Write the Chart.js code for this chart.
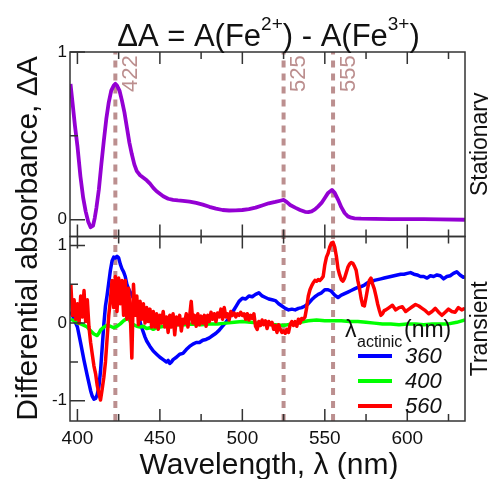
<!DOCTYPE html>
<html><head><meta charset="utf-8">
<script src="https://cdn.jsdelivr.net/npm/chart.js@4.4.1/dist/chart.umd.min.js"></script>
<style>html,body{margin:0;padding:0;background:#fff;overflow:hidden}</style>
</head><body>
<canvas id="c" width="488" height="479" style="width:488px;height:479px;display:block"></canvas>
<script>
// ---------- data ----------
const X_MIN = 395.5, X_MAX = 635;
const X_TICKS = [400, 450, 500, 550, 600];
const X_TICK_LABELS = ['400', '450', '500', '550', '600'];
const X_MINOR = [425, 475, 525, 575, 625];
const TOP_RANGE = [-0.1, 1.0];
const BOT_RANGE = [-1.26, 1.115];
const TOP_Y_TICKS = [0, 1];
const TOP_Y_LABELS = ['0', '1'];
const TOP_Y_MINOR = [0.5];
const BOT_Y_TICKS = [-1, 0, 1];
const BOT_Y_LABELS = ['-1', '0', '1'];
const BOT_Y_MINOR = [-0.5, 0.5];
const MARK_NM = [423, 525, 555];
const MARK_LABELS = ['422', '525', '555'];
const SERIES_LABELS = ['360', '400', '560'];

// Stationary difference spectrum
const STAT_X = [395.8,397,398.5,400,401.8,403.5,405,406.5,408,409.5,410.5,411.5,413,414.5,416,417.5,419,420.5,422,423,424,425.5,427,428.5,430,431.5,433,434.5,436,438,440,442,444,446,448,450,452,455,458,461,464,468,472,476,480,484,488,492,496,500,504,508,512,516,520,523,525,527,529,532,535,538,540,542,544,546,548,550,552,554.3,556,558,560,562,564,566,568,572,580,590,600,610,620,635];
const STAT_Y = [0.81,0.70,0.56,0.44,0.26,0.13,0.05,-0.01,-0.045,-0.035,0.01,0.07,0.18,0.33,0.47,0.60,0.70,0.77,0.80,0.81,0.80,0.77,0.71,0.64,0.55,0.46,0.39,0.33,0.29,0.265,0.25,0.235,0.215,0.19,0.17,0.155,0.14,0.125,0.118,0.115,0.113,0.108,0.10,0.09,0.077,0.066,0.058,0.055,0.056,0.058,0.063,0.072,0.085,0.098,0.106,0.113,0.118,0.105,0.088,0.072,0.058,0.047,0.045,0.05,0.062,0.08,0.10,0.13,0.16,0.178,0.16,0.12,0.075,0.04,0.02,0.012,0.008,0.006,0.005,0.004,0.004,0.003,0.002,0.0];

// Transient, actinic 360 nm
const T360_X = [396,398,400,402,404,406,408,409,410,411,412,413,414,415,416,417,418,419,420,421,422,423,424,425,426,427,428,429,430,431,432,433,434,435,436,437,438,439,440,441,442,444,446,448,450,452,454,455,456,457,458,460,462,464,466,468,470,472,474,476,478,480,482,484,486,488,490,492,494,496,498,500,502,504,506,508,510,512,514,516,518,520,522,524,526,528,530,532,534,536,538,540,542,544,546,548,550,552,554,556,558,560,562,564,566,568,570,572,574,576,578,580,582,584,586,588,590,592,594,596,598,600,602,604,606,608,610,612,614,616,618,620,622,624,626,628,630,632,634,635];
const T360_Y = [0.15,0.05,-0.05,-0.26,-0.48,-0.68,-0.87,-0.94,-0.98,-0.97,-0.92,-0.82,-0.62,-0.32,-0.02,0.22,0.36,0.52,0.68,0.80,0.85,0.84,0.86,0.84,0.76,0.70,0.66,0.60,0.50,0.44,0.40,0.36,0.32,0.24,0.16,0.10,0.01,-0.06,-0.12,-0.18,-0.23,-0.30,-0.36,-0.40,-0.44,-0.47,-0.50,-0.48,-0.52,-0.50,-0.47,-0.44,-0.40,-0.39,-0.34,-0.30,-0.27,-0.25,-0.25,-0.22,-0.21,-0.19,-0.16,-0.13,-0.09,-0.04,0.01,0.07,0.14,0.21,0.28,0.32,0.31,0.35,0.34,0.37,0.39,0.35,0.33,0.31,0.30,0.29,0.25,0.22,0.19,0.17,0.18,0.17,0.19,0.20,0.22,0.25,0.30,0.34,0.37,0.39,0.43,0.43,0.41,0.36,0.33,0.36,0.38,0.40,0.42,0.44,0.46,0.47,0.49,0.52,0.53,0.55,0.56,0.57,0.58,0.59,0.60,0.61,0.62,0.63,0.63,0.64,0.65,0.63,0.62,0.60,0.60,0.58,0.61,0.60,0.62,0.61,0.57,0.60,0.61,0.64,0.66,0.62,0.59,0.60];

// Transient, actinic 400 nm
const T400_X = [396,398,400,402,404,406,408,410,412,413,414,416,418,420,422,424,426,428,430,431,432,434,436,438,440,442,444,446,448,450,455,460,465,470,475,480,485,490,495,500,505,510,515,520,525,530,535,540,545,550,555,560,565,570,575,580,585,590,595,600,605,610,615,620,625,630,635];
const T400_Y = [0.05,0.03,0.00,-0.01,-0.03,-0.05,-0.10,-0.14,-0.16,-0.13,-0.09,-0.05,-0.03,-0.04,-0.06,-0.04,-0.01,0.03,0.06,0.08,0.02,-0.02,-0.04,-0.05,-0.04,-0.07,-0.06,-0.08,-0.06,-0.05,-0.03,-0.02,-0.02,-0.01,-0.02,-0.01,-0.01,0.00,0.01,0.02,0.01,0.00,-0.01,-0.02,-0.03,-0.01,0.01,0.03,0.04,0.03,0.03,0.03,0.02,0.02,0.01,0.00,-0.01,-0.01,-0.02,-0.01,-0.01,-0.02,-0.01,-0.01,-0.01,0.01,0.04];

// Transient, actinic 560 nm
const T560_X = [396,397,398,399,400,401,402,403,404,405,406,407,408,409,410,411,412,413,414,415,416,417,418,419,420,421,422,423,424,425,426,427,428,429,430,431,432,433,434,435,436,437,438,439,440,441,442,443,444,445,446,447,448,449,450,451,452,453,454,455,456,457,458,459,460,461,462,463,464,465,466,467,468,469,470,471,472,473,474,475,476,477,478,479,480,481,482,483,484,485,486,487,488,489,490,491,492,493,494,495,496,497,498,499,500,501,502,503,504,505,506,507,508,509,510,511,512,513,514,515,516,517,518,519,520,521,522,523,524,525,526,527,528,529,530,531,532,533,534,535,536,537,538,539,540,541,542,543,544,545,546,547,548,549,550,551,552,553,554,555,556,557,558,559,560,561,562,563,564,565,566,567,568,569,570,571,572,573,574,575,576,577,578,579,580,581,582,583,584,585,586,587,589,591,593,595,597,599,601,603,605,607,609,611,613,615,617,619,621,623,625,627,629,631,633,635];
const T560_Y = [0.50,0.10,0.30,0.05,0.25,0.00,0.35,0.08,0.42,0.02,0.30,-0.05,-0.25,-0.40,-0.55,-0.65,-0.80,-0.90,-0.99,-0.85,-0.70,-0.50,-0.20,0.10,0.30,0.55,0.20,0.60,0.15,0.58,0.25,0.55,0.10,0.55,0.05,0.45,0.15,-0.45,0.50,0.10,0.35,-0.02,0.28,0.05,0.25,0.00,0.20,0.02,0.18,-0.05,0.15,-0.05,0.12,-0.08,0.10,0.00,0.15,-0.05,0.08,-0.12,0.10,-0.05,0.12,-0.15,0.08,-0.02,0.10,-0.10,0.05,0.00,0.12,-0.05,0.08,0.28,0.00,0.10,-0.04,0.12,-0.02,0.09,0.00,0.10,-0.04,0.10,0.02,0.14,0.05,0.12,0.02,0.13,0.08,0.18,0.05,0.20,0.08,0.12,0.04,0.15,0.10,0.13,0.08,0.12,0.10,0.14,0.10,0.12,0.05,0.12,0.04,0.10,0.06,0.12,-0.04,-0.08,0.02,-0.03,0.04,-0.02,0.03,-0.07,0.02,-0.02,0.01,-0.08,-0.03,-0.12,-0.02,-0.08,-0.12,-0.10,-0.13,-0.08,-0.12,-0.02,0.02,-0.03,0.02,-0.04,0.05,0.00,0.06,0.05,0.08,0.20,0.35,0.43,0.48,0.52,0.55,0.54,0.56,0.55,0.57,0.60,0.75,0.85,0.90,0.98,1.03,1.04,0.98,0.86,0.70,0.62,0.56,0.54,0.58,0.65,0.72,0.76,0.78,0.77,0.73,0.68,0.55,0.45,0.32,0.23,0.22,0.33,0.45,0.55,0.58,0.50,0.44,0.35,0.25,0.17,0.10,0.12,0.16,0.17,0.20,0.23,0.17,0.20,0.21,0.15,0.18,0.21,0.24,0.22,0.19,0.16,0.12,0.15,0.19,0.14,0.10,0.14,0.18,0.15,0.14,0.20,0.17,0.19];

// ---------- styles ----------
const FONT = "'Liberation Sans', Arial, Helvetica, sans-serif";
const MARK_COLOR = '#bc8f8f';
const FRAME_COLOR = '#333';
const TEXT_COLOR = '#111';

const pts = (xs, ys) => xs.map((x, i) => ({x: x, y: ys[i]}));

const datasets = [];
MARK_NM.forEach(v => {
  datasets.push({label: '_mark', isMark: true, data: [{x: v, y: TOP_RANGE[0]}, {x: v, y: TOP_RANGE[1]}], yAxisID: 'yTop',
    borderColor: MARK_COLOR, borderWidth: 4, borderDash: [7, 6], pointRadius: 0, order: 10});
  datasets.push({label: '_mark', isMark: true, data: [{x: v, y: BOT_RANGE[0]}, {x: v, y: BOT_RANGE[1]}], yAxisID: 'yBot',
    borderColor: MARK_COLOR, borderWidth: 4, borderDash: [7, 6], pointRadius: 0, order: 10});
});
datasets.push({label: 'stationary', data: pts(STAT_X, STAT_Y), yAxisID: 'yTop', borderColor: '#9400d3', borderWidth: 3.8, pointRadius: 0, order: 1});
datasets.push({label: SERIES_LABELS[0], legend: true, data: pts(T360_X, T360_Y), yAxisID: 'yBot', borderColor: '#0000ff', borderWidth: 3.5, pointRadius: 0, order: 3});
datasets.push({label: SERIES_LABELS[1], legend: true, data: pts(T400_X, T400_Y), yAxisID: 'yBot', borderColor: '#00ff00', borderWidth: 3.5, pointRadius: 0, order: 2});
datasets.push({label: SERIES_LABELS[2], legend: true, data: pts(T560_X, T560_Y), yAxisID: 'yBot', borderColor: '#ff0000', borderWidth: 3.5, pointRadius: 0, order: 1});

function rotText(ctx, text, x, y, font, color, align) {
  ctx.save();
  ctx.translate(x, y);
  ctx.rotate(-Math.PI / 2);
  ctx.font = font; ctx.fillStyle = color;
  ctx.textAlign = align || 'center'; ctx.textBaseline = 'alphabetic';
  ctx.fillText(text, 0, 0);
  ctx.restore();
}

const decor = {
  id: 'decor',
  afterDatasetsDraw(chart) {
    const ctx = chart.ctx, xs = chart.scales.x;
    const left = chart.chartArea.left, right = chart.chartArea.right;
    ctx.save();
    ctx.strokeStyle = FRAME_COLOR; ctx.lineWidth = 1.5;
    const panels = [
      [chart.scales.yTop, TOP_Y_TICKS, TOP_Y_MINOR],
      [chart.scales.yBot, BOT_Y_TICKS, BOT_Y_MINOR]
    ];
    panels.forEach(([ys, major, minor]) => {
      ctx.strokeRect(left, ys.top, right - left, ys.bottom - ys.top);
      ctx.beginPath();
      const xt = (v, len) => {
        const p = xs.getPixelForValue(v);
        ctx.moveTo(p, ys.top); ctx.lineTo(p, ys.top + len);
        ctx.moveTo(p, ys.bottom); ctx.lineTo(p, ys.bottom - len);
      };
      X_TICKS.forEach(v => xt(v, 12));
      X_MINOR.forEach(v => xt(v, 7));
      const yt = (v, len) => {
        const p = ys.getPixelForValue(v);
        ctx.moveTo(left, p); ctx.lineTo(left + len, p);
      };
      major.forEach(v => yt(v, 15));
      minor.forEach(v => yt(v, 8));
      ctx.stroke();
    });
    ctx.restore();
    // mark labels
    MARK_NM.forEach((v, i) => {
      const p = xs.getPixelForValue(v);
      rotText(ctx, MARK_LABELS[i], p + 21.5, 92, '22px ' + FONT, MARK_COLOR, 'left');
    });
  },
  afterDraw(chart) {
    const ctx = chart.ctx;
    const yTop = chart.scales.yTop, yBot = chart.scales.yBot;
    // title
    ctx.save();
    ctx.fillStyle = TEXT_COLOR; ctx.textBaseline = 'alphabetic'; ctx.textAlign = 'left';
    const big = '31px ' + FONT, small = '19px ' + FONT;
    const parts = [['ΔA = A(Fe', big, 0], ['2+', small, -16], [') - A(Fe', big, 0], ['3+', small, -16], [')', big, 0]];
    let w = 0;
    parts.forEach(p => { ctx.font = p[1]; w += ctx.measureText(p[0]).width; });
    let x = 268.5 - w / 2;
    parts.forEach(p => { ctx.font = p[1]; ctx.fillText(p[0], x, 46 + p[2]); x += ctx.measureText(p[0]).width; });
    // x axis title
    ctx.font = '30px ' + FONT; ctx.textAlign = 'center';
    ctx.fillText('Wavelength, λ (nm)', 269, 474);
    ctx.restore();
    // y axis title
    rotText(ctx, 'Differential absorbance, ΔA', 37, (yTop.top + yBot.bottom) / 2 + 2, '30px ' + FONT, TEXT_COLOR, 'center');
    // side labels
    rotText(ctx, 'Stationary', 487, (yTop.top + yTop.bottom) / 2, '23px ' + FONT, TEXT_COLOR, 'center');
    rotText(ctx, 'Transient', 487, (yBot.top + yBot.bottom) / 2, '23px ' + FONT, TEXT_COLOR, 'center');
    // legend
    ctx.save();
    ctx.fillStyle = TEXT_COLOR; ctx.textAlign = 'left'; ctx.textBaseline = 'alphabetic';
    ctx.font = '23px ' + FONT; ctx.fillText('λ', 345, 337);
    ctx.font = '16px ' + FONT; ctx.fillText('actinic', 357, 347);
    ctx.font = '23px ' + FONT; ctx.fillText('(nm)', 404, 337);
    const legendSets = chart.data.datasets.filter(d => d.legend);
    legendSets.forEach((d, i) => {
      const y = 356 + i * 25;
      ctx.strokeStyle = d.borderColor; ctx.lineWidth = 4;
      ctx.beginPath(); ctx.moveTo(358, y); ctx.lineTo(392, y); ctx.stroke();
      ctx.font = 'italic 22px ' + FONT; ctx.textBaseline = 'middle';
      ctx.fillText(d.label, 405, y + 1);
    });
    ctx.restore();
  }
};

const yCommon = {
  type: 'linear', position: 'left', stack: 'panels', stackWeight: 1, offset: false,
  grid: {display: false, drawTicks: false}, border: {display: false},
  afterFit: s => { s.width = 70; }
};

new Chart(document.getElementById('c'), {
  type: 'line',
  data: {datasets: datasets},
  options: {
    responsive: false, animation: false, devicePixelRatio: 1,
    parsing: false, normalized: true,
    layout: {padding: {top: 52, right: 23, bottom: 0, left: 0}},
    plugins: {legend: {display: false}, tooltip: {enabled: false}, title: {display: false}},
    elements: {line: {tension: 0, borderCapStyle: 'butt', borderJoinStyle: 'round'}},
    scales: {
      x: {
        type: 'linear', position: 'bottom', min: X_MIN, max: X_MAX,
        grid: {display: false, drawTicks: false}, border: {display: false},
        afterBuildTicks: s => { s.ticks = X_TICKS.map(v => ({value: v})); },
        ticks: {autoSkip: false, maxRotation: 0, padding: 6, color: TEXT_COLOR, font: {family: FONT, size: 19},
          callback: (v, i) => X_TICK_LABELS[i]},
        afterFit: s => { s.height = 58; }
      },
      yBot: Object.assign({}, yCommon, {
        min: BOT_RANGE[0], max: BOT_RANGE[1],
        afterBuildTicks: s => { s.ticks = BOT_Y_TICKS.map(v => ({value: v})); },
        ticks: {autoSkip: false, padding: 3, color: TEXT_COLOR, font: {family: FONT, size: 17},
          callback: (v, i) => BOT_Y_LABELS[i]}
      }),
      yTop: Object.assign({}, yCommon, {
        min: TOP_RANGE[0], max: TOP_RANGE[1],
        afterBuildTicks: s => { s.ticks = TOP_Y_TICKS.map(v => ({value: v})); },
        ticks: {autoSkip: false, padding: 3, color: TEXT_COLOR, font: {family: FONT, size: 17},
          callback: (v, i) => TOP_Y_LABELS[i]}
      })
    }
  },
  plugins: [decor]
});
</script>
</body></html>
